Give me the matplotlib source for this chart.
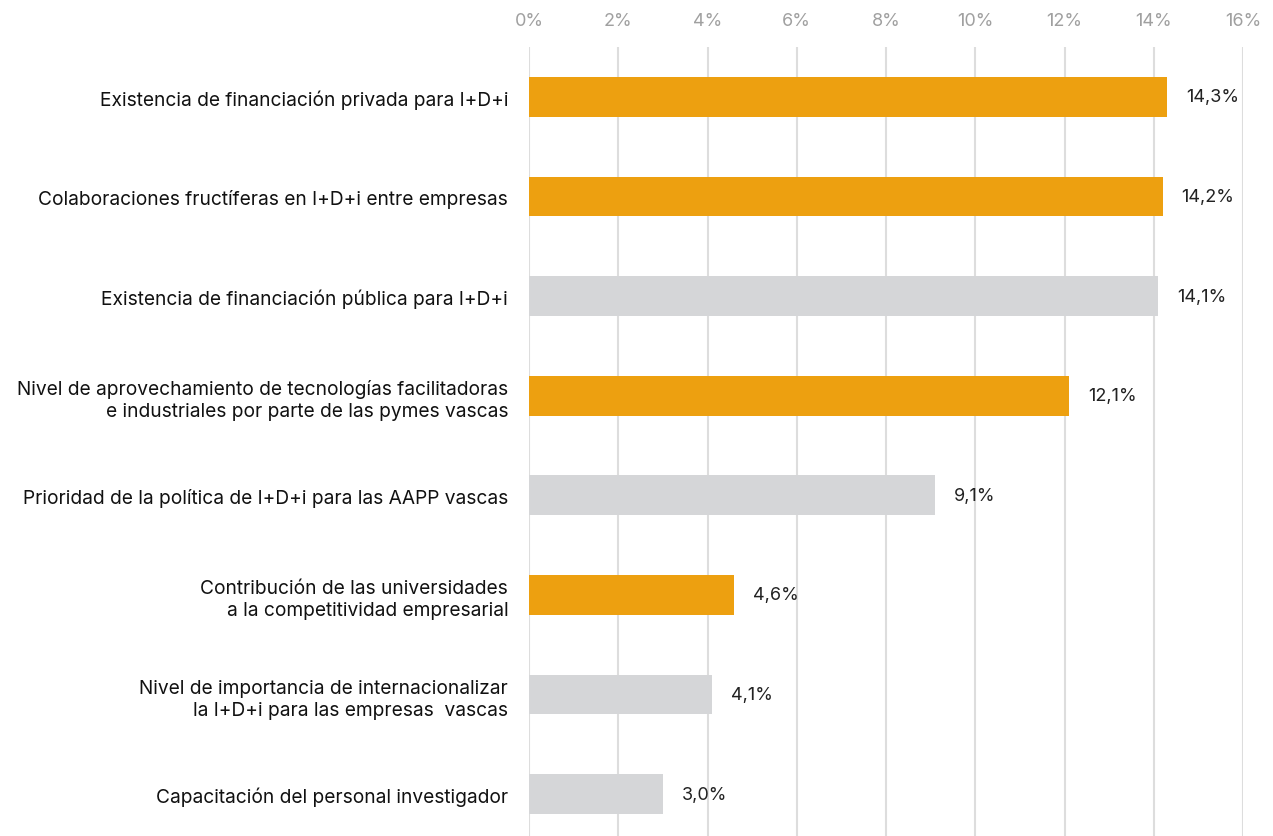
import matplotlib
matplotlib.use("Agg")
import matplotlib.pyplot as plt

categories = [
    "Existencia de financiación privada para I+D+i",
    "Colaboraciones fructíferas en I+D+i entre empresas",
    "Existencia de financiación pública para I+D+i",
    "Nivel de aprovechamiento de tecnologías facilitadoras\ne industriales por parte de las pymes vascas",
    "Prioridad de la política de I+D+i para las AAPP vascas",
    "Contribución de las universidades\na la competitividad empresarial",
    "Nivel de importancia de internacionalizar\nla I+D+i para las empresas  vascas",
    "Capacitación del personal investigador",
]
values = [14.3, 14.2, 14.1, 12.1, 9.1, 4.6, 4.1, 3.0]
highlight = [True, True, False, True, False, True, False, False]
ticks = [0, 2, 4, 6, 8, 10, 12, 14, 16]

ORANGE = "#EDA010"
GRAY = "#D5D6D8"

plt.rcParams['font.family'] = ['Inter', 'DejaVu Sans']

fig = plt.figure(figsize=(12.73, 8.37), dpi=100)
ax = fig.add_axes([529/1273, 0, (1243-529)/1273, 1 - 48/837])

ypos = list(range(len(categories)))
colors = [ORANGE if h else GRAY for h in highlight]
ax.barh(ypos, values, height=0.4, color=colors, zorder=3)

for y, v in zip(ypos, values):
    ax.text(v + 0.42, y, f"{v:.1f}".replace(".", ",") + "%", va="center", ha="left",
            fontsize=13, color="#222222", zorder=4)

ax.set_xlim(0, 16)
ax.set_ylim(7.42, -0.5)
ax.set_xticks(ticks)
ax.set_xticklabels([f"{t}%" for t in ticks])
ax.xaxis.tick_top()
ax.tick_params(axis="x", length=0, pad=13, labelsize=13, labelcolor="#a0a0a0")
ax.set_yticks(ypos)
ax.set_yticklabels(categories, fontsize=13.8, color="#111111", linespacing=1.3)
ax.tick_params(axis="y", length=0, pad=15)
for lbl in ax.get_yticklabels():
    lbl.set_multialignment("right")

ax.grid(axis="x", color="#dddddd", linewidth=1.5, zorder=0)
ax.grid(axis="y", visible=False)
for s in ax.spines.values():
    s.set_visible(False)

fig.savefig("out.png", dpi=100)
